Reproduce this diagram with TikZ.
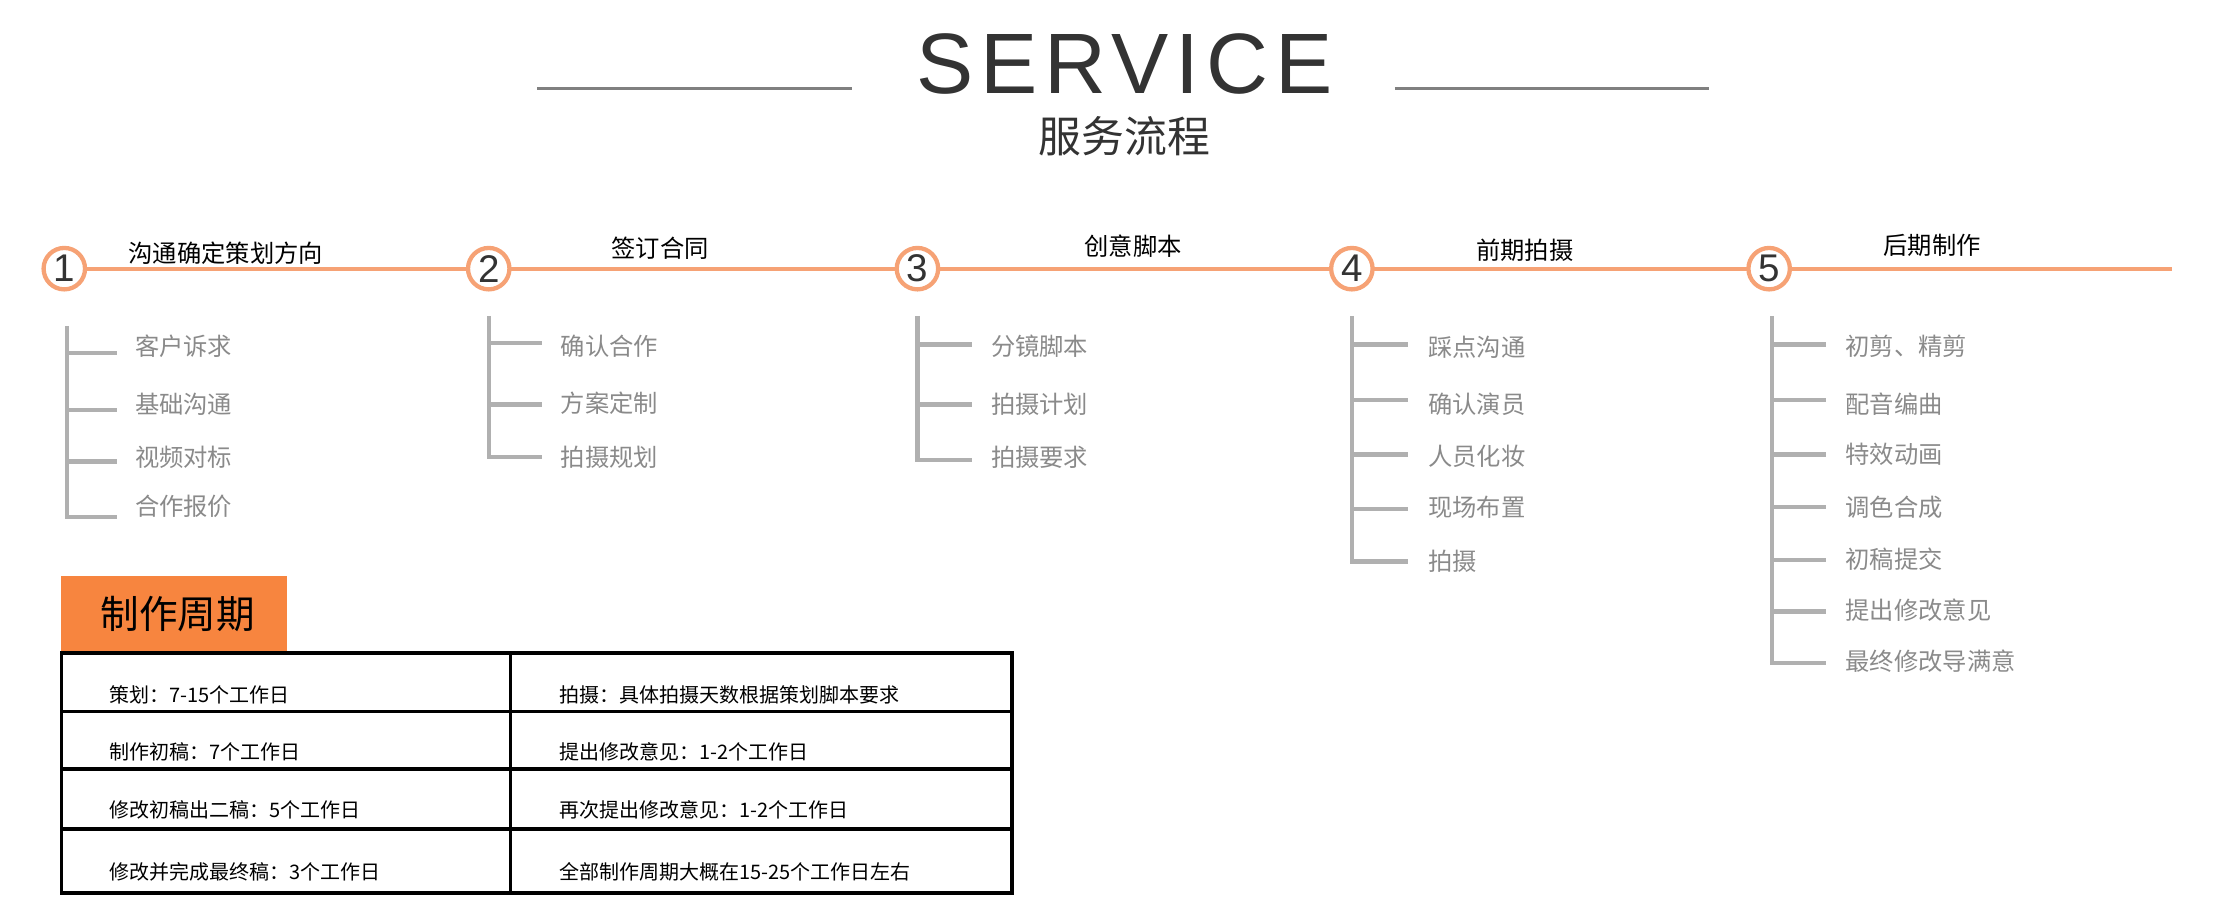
\documentclass[tikz,border=0pt]{standalone}
\usepackage{fontspec}
\setmainfont{Liberation Sans}
\newfontfamily\cjk{Noto Sans CJK SC}
\newfontfamily\titlefont[LetterSpace=8]{Liberation Sans}
\definecolor{org}{HTML}{F6A275}
\definecolor{orgbox}{HTML}{F7853F}
\definecolor{gtxt}{HTML}{8A8A8A}
\definecolor{gline}{HTML}{B0B0B0}
\definecolor{dark}{HTML}{333333}
\begin{document}
\begin{tikzpicture}[x=1pt,y=-1pt,
  numc/.style={circle,draw=org,line width=3pt,fill=white,minimum size=29pt,inner sep=0pt,font=\fontsize{27}{27}\selectfont,text=dark},
  head/.style={font=\cjk\fontsize{17}{17}\selectfont,text=black},
  item/.style={font=\cjk\fontsize{17}{17}\selectfont,text=gtxt,anchor=west},
  br/.style={draw=gline,line width=3pt},
  cell/.style={font=\cjk\fontsize{14}{14}\selectfont,anchor=west,text=black}]
\useasboundingbox (0,0) rectangle (1550,638);
\node[font=\titlefont\fontsize{60}{60}\selectfont,text=dark] (title) at (787,45) {SERVICE};
\node[font=\cjk\fontsize{30}{30}\selectfont,text=dark] (sub) at (787,95) {服务流程};
\coordinate (l1a) at (376,62); \coordinate (l1b) at (596,62);
\coordinate (l2a) at (976,62); \coordinate (l2b) at (1196,62);
\draw[gray,line width=2pt] (l1a)--(l1b); \draw[gray,line width=2pt] (l2a)--(l2b);
\coordinate (ls) at (45,188); \coordinate (le) at (1520,188);
\draw[org,line width=3pt] (ls)--(le);
\foreach \n/\x in {1/45,2/342,3/642,4/946,5/1238} \node[numc] (c\n) at (\x,188) {\n};
\node[head] (h1) at (158,177) {沟通确定策划方向};
\node[head] (h2) at (462,174) {签订合同};
\node[head] (h3) at (793,172) {创意脚本};
\node[head] (h4) at (1067,175) {前期拍摄};
\node[head] (h5) at (1352,172) {后期制作};
% column 1
\draw[br] (47,228) |- (82,362);
\foreach \y in {247,287,323} \draw[br] (47,\y)--(82,\y);
\node[item] (a1) at (91,242) {客户诉求};
\node[item] (a2) at (91,283) {基础沟通};
\node[item] (a3) at (91,320) {视频对标};
\node[item] (a4) at (91,354) {合作报价};
% column 2
\draw[br] (342,221) |- (379,320);
\foreach \y in {240,283} \draw[br] (342,\y)--(379,\y);
\node[item] (b1) at (389,242) {确认合作};
\node[item] (b2) at (389,282) {方案定制};
\node[item] (b3) at (389,320) {拍摄规划};
% column 3
\draw[br] (642,221) |- (680,322);
\foreach \y in {241,283} \draw[br] (642,\y)--(680,\y);
\node[item] (d1) at (690,242) {分镜脚本};
\node[item] (d2) at (690,283) {拍摄计划};
\node[item] (d3) at (690,320) {拍摄要求};
% column 4
\draw[br] (946,221) |- (985,393);
\foreach \y in {241,280,318,356} \draw[br] (946,\y)--(985,\y);
\node[item] (e1) at (996,243) {踩点沟通};
\node[item] (e2) at (996,283) {确认演员};
\node[item] (e3) at (996,319) {人员化妆};
\node[item] (e4) at (996,355) {现场布置};
\node[item] (e5) at (996,393) {拍摄};
% column 5
\draw[br] (1240,221) |- (1278,464);
\foreach \y in {241,280,318,355,392,428} \draw[br] (1240,\y)--(1278,\y);
\node[item] (f1) at (1288,242) {初剪、精剪};
\node[item] (f2) at (1288,283) {配音编曲};
\node[item] (f3) at (1288,318) {特效动画};
\node[item] (f4) at (1288,355) {调色合成};
\node[item] (f5) at (1288,391) {初稿提交};
\node[item] (f6) at (1288,427) {提出修改意见};
\node[item] (f7) at (1288,463) {最终修改导满意};
% period box
\fill[orgbox] (43,403) rectangle (201,457);
\node[font=\cjk\fontsize{27}{27}\selectfont,anchor=west] (pz) at (67,430) {制作周期};
% table
\draw[black,line width=2.5pt] (43,457) rectangle (708,625);
\foreach \y in {498,538,580} \draw[black,line width=2.5pt] (43,\y)--(708,\y);
\draw[black,line width=2pt] (357,457)--(357,625);
\node[cell] (t11) at (73,486) {策划：7-15个工作日};
\node[cell] (t21) at (73,526) {制作初稿：7个工作日};
\node[cell] (t31) at (73,567) {修改初稿出二稿：5个工作日};
\node[cell] (t41) at (73,610) {修改并完成最终稿：3个工作日};
\node[cell] (t12) at (388,486) {拍摄：具体拍摄天数根据策划脚本要求};
\node[cell] (t22) at (388,526) {提出修改意见：1-2个工作日};
\node[cell] (t32) at (388,567) {再次提出修改意见：1-2个工作日};
\node[cell] (t42) at (388,610) {全部制作周期大概在15-25个工作日左右};
\end{tikzpicture}
\end{document}
